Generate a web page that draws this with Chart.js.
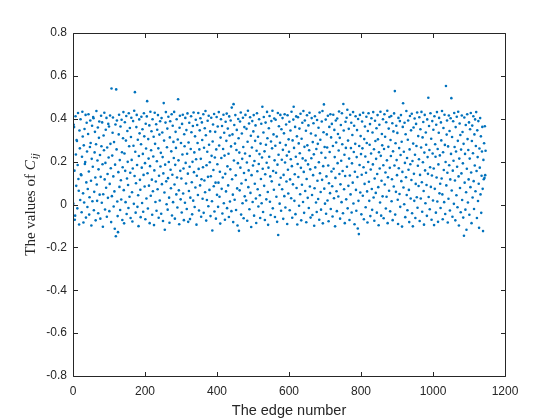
<!DOCTYPE html>
<html>
<head>
<meta charset="utf-8">
<script src="https://cdn.jsdelivr.net/npm/chart.js@4"></script>
<style>
html,body{margin:0;padding:0;background:#fff;}
canvas{display:block;}
</style>
</head>
<body>
<canvas id="c" width="560" height="420"></canvas>
<script>
// Values of C_ij for each edge (edge numbers start at 1)
const cijValues = [
0.004,0.372,0.361,0.158,-0.071,-0.052,0.412,0.233,0.087,0.301,0.296,-0.018,0.184,0.427,0.119,0.064,-0.093,0.345,0.262,0.021,
0.398,0.141,0.137,-0.036,0.223,0.433,0.317,0.052,-0.084,0.276,0.009,0.352,0.189,0.198,0.418,-0.061,0.103,0.381,0.247,-0.012,
0.072,0.329,0.421,0.154,-0.047,0.034,0.268,0.392,0.287,0.111,-0.098,0.213,0.367,0.015,0.176,0.408,0.402,-0.027,0.059,0.243,
0.339,0.126,-0.074,0.281,0.436,0.093,0.017,0.205,0.359,-0.041,0.164,0.311,0.387,0.046,0.231,-0.066,0.129,0.414,0.272,0.008,
0.383,0.188,-0.104,0.048,0.322,0.253,0.428,0.117,-0.023,0.194,0.349,0.078,0.404,-0.057,0.266,0.142,0.031,0.376,0.219,0.364,
-0.031,0.096,0.415,0.283,0.169,-0.082,0.541,0.039,0.228,0.335,0.406,0.131,-0.009,0.291,0.061,-0.113,0.186,0.373,-0.148,0.537,
0.257,0.392,0.014,-0.054,-0.129,0.151,0.327,0.419,0.082,0.207,-0.026,0.364,0.113,0.023,0.395,0.244,-0.072,0.174,0.309,0.431,
0.067,-0.088,0.238,0.384,0.157,0.011,0.298,0.413,-0.044,0.121,0.343,0.199,0.091,-0.016,0.426,0.272,0.036,0.357,0.148,-0.063,
0.315,0.405,0.208,0.057,-0.079,0.168,0.389,0.274,0.003,0.437,0.133,0.524,0.246,-0.038,0.099,0.361,0.418,0.184,-0.011,0.302,
0.043,-0.101,0.226,0.397,0.332,0.115,0.069,-0.059,0.281,0.409,0.172,0.007,0.351,0.236,-0.034,0.138,0.426,0.318,0.084,0.193,
-0.069,0.377,0.261,0.028,0.411,0.482,0.146,-0.019,0.305,0.214,0.088,0.369,-0.087,0.179,0.433,0.041,0.253,0.342,0.116,-0.048,
0.398,0.062,0.224,0.316,-0.096,0.159,0.428,0.283,0.012,0.107,0.374,-0.029,0.202,0.349,0.071,0.417,0.262,-0.062,0.134,0.326,
0.019,0.388,0.177,0.241,-0.043,0.403,0.095,0.336,0.221,-0.077,0.145,0.473,0.298,0.056,-0.118,0.186,0.382,0.431,0.108,0.001,
0.267,0.354,-0.024,0.123,0.409,0.198,0.032,-0.085,0.313,0.388,0.162,0.076,0.248,0.421,-0.051,0.139,0.367,0.011,0.292,0.217,
0.432,0.093,-0.066,0.185,0.339,0.264,0.047,0.398,0.126,-0.014,0.303,0.491,0.206,0.066,-0.092,0.358,0.414,0.157,0.024,0.287,
0.121,-0.037,0.376,0.233,0.419,0.051,0.168,-0.073,0.328,0.272,0.008,0.404,0.194,0.098,0.347,-0.021,0.237,0.425,0.144,-0.081,
0.289,0.063,0.381,0.176,-0.068,0.032,0.259,0.412,0.337,0.104,-0.046,0.199,0.366,0.018,0.429,0.151,0.243,-0.012,0.318,0.079,
0.395,0.211,-0.094,0.134,0.371,0.287,0.044,0.427,0.166,-0.028,0.257,0.346,0.089,0.402,0.213,-0.057,0.118,0.383,0.301,0.027,
0.174,0.421,-0.039,0.265,0.112,0.356,0.057,0.436,0.323,-0.075,0.183,0.021,0.246,0.391,0.129,-0.008,0.414,0.279,0.068,0.197,
0.341,-0.054,0.132,0.405,0.227,0.015,-0.121,0.294,0.373,0.161,0.085,0.422,-0.033,0.219,0.339,0.102,-0.066,0.257,0.408,0.045,
0.188,0.364,-0.011,0.102,0.431,0.275,0.036,0.153,-0.089,0.312,0.398,0.217,0.073,0.366,-0.042,0.126,0.259,0.419,0.006,0.335,
0.228,-0.071,0.143,0.386,0.061,0.297,0.424,-0.017,0.178,0.354,0.089,0.237,-0.058,0.411,0.322,0.014,0.164,0.392,0.271,-0.031,
0.452,0.118,0.327,0.046,-0.082,0.468,0.205,0.371,0.022,0.284,0.417,0.136,-0.026,0.254,0.348,0.075,-0.098,0.193,0.399,0.309,
-0.123,0.242,0.066,0.387,0.172,0.429,-0.047,0.098,0.331,0.213,0.006,0.405,0.268,-0.064,0.147,0.361,0.038,0.238,0.418,0.114,
0.019,0.353,0.196,-0.076,0.293,0.437,0.081,0.159,0.378,-0.022,0.226,0.407,0.054,0.321,-0.105,0.137,0.266,0.389,0.012,0.182,
0.341,0.417,-0.052,0.203,0.097,0.297,0.369,0.028,-0.086,0.251,0.426,0.155,0.071,0.316,-0.009,0.189,0.398,0.235,0.043,-0.063,
0.284,0.119,0.377,0.006,0.219,0.456,0.167,-0.035,0.336,0.408,0.087,0.248,-0.072,0.141,0.382,0.279,0.024,0.195,0.432,0.309,
0.058,-0.095,0.172,0.356,0.223,0.413,0.013,0.131,-0.049,0.294,0.389,0.108,0.262,0.437,-0.018,0.156,0.327,0.069,0.401,0.206,
-0.058,0.274,0.395,0.148,0.036,0.317,-0.081,0.186,0.427,-0.142,0.232,0.365,0.092,0.004,0.288,0.418,0.125,-0.029,0.351,0.209,
0.071,0.403,0.255,-0.067,0.138,0.332,0.039,0.421,0.196,-0.014,0.277,0.373,0.107,0.228,-0.091,0.416,0.162,0.051,0.304,0.246,
0.386,-0.027,0.117,0.345,0.211,0.029,0.433,0.179,-0.062,0.299,0.094,0.396,0.456,0.264,0.017,0.141,0.362,-0.045,0.223,0.411,
0.077,0.318,-0.093,0.189,0.407,0.128,0.285,-0.006,0.354,0.239,0.048,0.423,0.171,-0.074,0.307,0.092,0.381,0.215,0.012,0.436,
0.152,-0.039,0.269,0.392,0.063,0.205,0.344,-0.083,0.119,0.416,0.276,0.031,0.187,0.369,-0.016,0.253,0.428,0.084,0.164,-0.061,
0.331,0.216,0.403,0.044,-0.049,0.291,0.137,0.379,0.234,-0.099,0.076,0.412,0.173,0.322,0.009,0.259,-0.035,0.394,0.111,0.283,
0.026,0.358,0.197,-0.071,0.429,0.146,0.302,0.058,-0.024,0.241,0.387,0.115,0.436,-0.088,0.179,0.337,0.467,0.074,0.268,0.004,
0.218,0.396,-0.043,0.131,0.327,0.266,0.019,0.414,0.182,-0.078,0.099,0.362,0.245,0.053,0.421,-0.021,0.313,0.154,0.376,0.085,
-0.056,0.273,0.419,0.167,0.029,0.348,0.221,-0.102,0.124,0.392,0.289,0.062,-0.031,0.401,0.193,0.329,0.037,0.252,0.434,0.142,
0.311,-0.066,0.094,0.371,0.204,0.011,0.426,0.281,0.156,-0.041,0.469,0.345,0.071,0.232,-0.087,0.133,0.386,0.264,0.024,0.405,
0.176,0.442,-0.018,0.298,0.087,0.353,0.214,-0.072,0.135,0.419,0.047,0.263,0.381,-0.037,0.192,0.324,0.102,0.431,0.005,0.245,
0.367,-0.092,0.153,0.283,0.412,0.068,-0.029,0.221,0.347,0.128,-0.112,0.399,0.017,-0.138,0.273,0.184,0.418,0.056,0.319,0.235,
-0.046,0.139,0.387,0.262,0.041,0.428,0.174,-0.069,0.305,0.096,0.364,0.224,-0.013,0.148,0.409,0.287,0.061,-0.084,0.343,0.198,
0.426,0.106,0.017,0.279,0.375,-0.054,0.163,0.238,0.402,0.072,-0.025,0.336,0.187,0.431,0.033,0.258,-0.076,0.121,0.391,0.296,
0.054,0.213,0.356,-0.038,0.142,0.417,0.304,0.081,-0.097,0.244,0.372,0.168,0.009,0.433,0.227,-0.052,0.111,0.329,0.276,0.038,
0.398,0.183,-0.064,0.259,0.421,0.093,0.316,0.149,-0.019,0.384,0.036,0.206,0.437,-0.087,0.127,0.269,0.354,0.064,0.408,0.171,
-0.032,0.301,0.226,0.413,0.015,0.118,0.379,-0.073,0.248,0.341,0.084,0.425,0.182,0.529,-0.047,0.286,0.059,0.367,0.207,0.137,
0.334,0.022,-0.091,0.404,0.169,0.263,0.049,0.389,-0.011,0.231,0.417,0.109,0.293,-0.103,0.152,0.362,0.472,0.079,0.246,0.001,
0.381,0.194,-0.059,0.328,0.127,0.436,0.044,0.217,-0.027,0.302,0.392,0.162,0.068,-0.082,0.257,0.413,0.188,0.028,0.346,0.114,
0.423,-0.041,0.203,-0.102,0.284,0.359,0.143,0.017,0.401,0.232,-0.063,0.096,0.376,0.273,0.034,0.429,-0.015,0.181,0.319,0.086,
0.211,0.407,-0.077,0.138,0.351,0.028,0.266,0.432,0.104,-0.034,0.313,0.197,0.385,0.063,-0.094,0.242,0.418,0.159,0.006,0.336,
0.279,0.091,-0.053,0.397,0.221,0.143,0.498,0.035,0.366,0.254,-0.022,0.174,0.426,0.082,0.307,-0.071,0.135,0.389,0.238,0.019,
0.349,0.168,-0.096,0.412,0.073,0.281,0.223,-0.038,0.372,0.126,0.431,0.014,0.259,-0.081,0.187,0.335,0.404,0.052,0.229,0.097,
-0.016,0.383,0.299,0.121,0.436,0.047,-0.069,0.244,0.357,0.161,0.011,0.419,0.278,-0.044,0.198,0.553,0.089,0.326,0.392,0.148,
-0.084,0.271,0.027,0.415,0.183,0.343,-0.028,0.117,0.402,0.236,0.496,0.065,0.315,-0.057,0.158,0.388,0.204,0.003,0.427,0.268,
0.112,-0.074,0.361,0.247,0.043,0.409,0.176,-0.013,0.297,0.433,0.131,-0.098,0.214,0.378,0.077,0.324,-0.036,0.256,0.145,0.415,
0.021,0.338,0.192,-0.061,0.283,-0.146,0.406,0.102,0.236,-0.024,0.371,0.057,-0.118,0.167,0.421,0.305,0.009,0.254,0.117,0.383,
-0.048,0.214,0.351,0.081,0.427,0.149,-0.087,0.296,0.368,0.033,0.239,0.412,0.109,-0.021,0.327,0.182,0.397,0.062,0.273,0.431,
0.156,-0.063,0.346,0.221,0.016,0.389,0.097,-0.109,0.261,0.172,0.403,0.047,0.318,-0.039,0.134,0.247,0.362,0.073,-0.124,0.208,
0.118,0.286,0.124,0.365,0.137,0.251
];
const xTicks = [0, 200, 400, 600, 800, 1000, 1200];
const yTicks = [-0.8, -0.6, -0.4, -0.2, 0, 0.2, 0.4, 0.6, 0.8];
const xTitle = 'The edge number';
const yTitlePlain = 'The values of ';
const yTitleVar = 'C';
const yTitleSub = 'ij';

const points = cijValues.map((v, i) => ({ x: i + 1, y: v }));
const axisColor = '#262626';
const fmt = v => Math.abs(v) < 1e-9 ? '0' : (Math.round(v * 10) / 10).toString();

const framePlugin = {
  id: 'frame',
  afterDraw(chart) {
    const ctx = chart.ctx;
    const a = chart.chartArea;
    const xs = chart.scales.x, ys = chart.scales.y;
    const L = Math.round(a.left) + 0.5, R = Math.round(a.right) + 0.5;
    const T = Math.round(a.top) + 0.5, B = Math.round(a.bottom) + 0.5;
    ctx.save();
    ctx.strokeStyle = axisColor;
    ctx.lineWidth = 1;
    ctx.beginPath();
    ctx.rect(L, T, R - L, B - T);
    const tl = 4.5;
    xTicks.forEach(t => {
      const px = Math.round(xs.getPixelForValue(t)) + 0.5;
      ctx.moveTo(px, B); ctx.lineTo(px, B - tl);
      ctx.moveTo(px, T); ctx.lineTo(px, T + tl);
    });
    yTicks.forEach(t => {
      const py = Math.round(ys.getPixelForValue(t)) + 0.5;
      ctx.moveTo(L, py); ctx.lineTo(L + tl, py);
      ctx.moveTo(R, py); ctx.lineTo(R - tl, py);
    });
    ctx.stroke();
    // y axis title (serif with italic math)
    const cy = (a.top + a.bottom) / 2;
    ctx.translate(31, cy);
    ctx.rotate(-Math.PI / 2);
    ctx.fillStyle = axisColor;
    ctx.textBaseline = 'middle';
    const f1 = '15px "Liberation Serif", "DejaVu Serif", serif';
    const f2 = 'italic 15px "Liberation Serif", "DejaVu Serif", serif';
    const f3 = 'italic 11px "Liberation Serif", "DejaVu Serif", serif';
    ctx.font = f1; const w1 = ctx.measureText(yTitlePlain).width;
    ctx.font = f2; const w2 = ctx.measureText(yTitleVar).width;
    ctx.font = f3; const w3 = ctx.measureText(yTitleSub).width;
    let x0 = -(w1 + w2 + 1 + w3) / 2;
    ctx.textAlign = 'left';
    ctx.font = f1; ctx.fillText(yTitlePlain, x0, 0);
    ctx.font = f2; ctx.fillText(yTitleVar, x0 + w1, 0);
    ctx.font = f3; ctx.fillText(yTitleSub, x0 + w1 + w2 + 1, 4);
    ctx.restore();
  }
};

new Chart(document.getElementById('c'), {
  type: 'scatter',
  data: {
    datasets: [{
      data: points,
      backgroundColor: '#0072BD',
      borderWidth: 0,
      pointRadius: 1.3,
      pointHoverRadius: 1.3,
      pointStyle: 'circle'
    }]
  },
  options: {
    responsive: false,
    animation: false,
    events: [],
    layout: { padding: { top: 33, right: 55, left: 0, bottom: 0 } },
    plugins: { legend: { display: false }, tooltip: { enabled: false } },
    scales: {
      x: {
        type: 'linear', min: 0, max: 1200,
        afterBuildTicks: s => { s.ticks = xTicks.map(v => ({ value: v })); },
        afterFit: s => { s.height = 44; },
        grid: { display: false, drawTicks: false },
        border: { display: false },
        ticks: { padding: 8, color: axisColor, maxRotation: 0,
          font: { family: '"Liberation Sans", Arial, sans-serif', size: 12 },
          callback: v => fmt(v) },
        title: { display: true, text: xTitle, color: axisColor, padding: { top: 1, bottom: 0 },
          font: { family: '"Liberation Sans", Arial, sans-serif', size: 14.5 } }
      },
      y: {
        type: 'linear', min: -0.8, max: 0.8,
        afterBuildTicks: s => { s.ticks = yTicks.map(v => ({ value: v })); },
        afterFit: s => { s.width = 73; },
        grid: { display: false, drawTicks: false },
        border: { display: false },
        ticks: { padding: 6, color: axisColor,
          font: { family: '"Liberation Sans", Arial, sans-serif', size: 12 },
          callback: v => fmt(v) }
      }
    }
  },
  plugins: [framePlugin]
});
</script>
</body>
</html>
